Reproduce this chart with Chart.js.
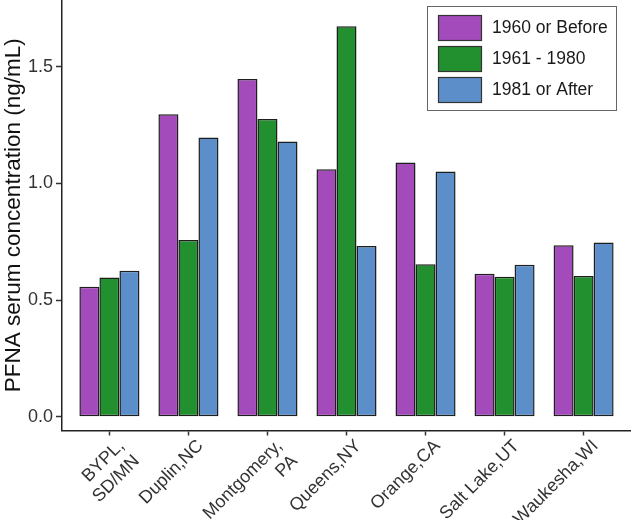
<!DOCTYPE html>
<html>
<head>
<meta charset="utf-8">
<script src="https://cdn.jsdelivr.net/npm/chart.js@4"></script>
<style>
  body { margin: 0; background: #fff; }
  #wrap { width: 631px; height: 520px; }
</style>
</head>
<body>
<div id="wrap"><canvas id="myChart"></canvas></div>
<script>
const sites = [['BYPL,', 'SD/MN'], 'Duplin,NC', ['Montgomery,', 'PA'], 'Queens,NY', 'Orange,CA', 'Salt Lake,UT', 'Waukesha,WI']
const before1960 = [0.557, 1.296, 1.447, 1.061, 1.090, 0.613, 0.735]
const from1961to1980 = [0.597, 0.757, 1.276, 1.674, 0.653, 0.600, 0.603]
const after1981 = [0.626, 1.197, 1.180, 0.732, 1.051, 0.651, 0.747]
const yTicks = [0.0, 0.5, 1.0, 1.5]
const seriesNames = ['1960 or Before', '1961 - 1980', '1981 or After']
const seriesColors = ['#a34bbb', '#23902f', '#5c8fca']

const FONT = '"Liberation Sans", Arial, sans-serif'

// legend drawn inside the plot, top right, like the original
const legendBox = {
    id: 'legendBox',
    afterDraw(chart) {
        const ctx = chart.ctx
        ctx.save()
        ctx.fillStyle = '#fff'
        ctx.fillRect(427.5, 6.5, 189, 104)
        ctx.strokeStyle = '#666'
        ctx.lineWidth = 1
        ctx.strokeRect(427.5, 6.5, 189, 104)
        chart.data.datasets.forEach((ds, i) => {
            const y = 15.5 + i * 31
            ctx.fillStyle = ds.backgroundColor
            ctx.fillRect(438.5, y, 43, 25)
            ctx.strokeStyle = '#333'
            ctx.lineWidth = 1.2
            ctx.strokeRect(438.5, y, 43, 25)
            ctx.fillStyle = '#1a1a1a'
            ctx.font = '17.5px ' + FONT
            ctx.textBaseline = 'middle'
            ctx.textAlign = 'left'
            ctx.fillText(ds.label, 492, y + 13)
        })
        ctx.restore()
    }
}

const toPoints = arr => arr.map((y, i) => ({ x: i, y }))
const series = [before1960, from1961to1980, after1981]

const ctx = document.getElementById('myChart').getContext('2d')

new Chart(ctx, {
    type: 'bar',
    data: {
        datasets: series.map((vals, i) => ({
            label: seriesNames[i],
            data: toPoints(vals),
            backgroundColor: seriesColors[i],
            borderColor: '#1e1e1e',
            borderWidth: 1.5,
            borderSkipped: false,
            categoryPercentage: 0.76,
            barPercentage: 1.0
        }))
    },
    options: {
        responsive: true,
        maintainAspectRatio: false,
        animation: false,
        layout: { padding: 0 },
        plugins: {
            legend: { display: false },
            tooltip: { enabled: false }
        },
        scales: {
            x: {
                type: 'linear',
                min: -0.6,
                max: 6.6,
                offset: false,
                afterBuildTicks: axis => { axis.ticks = sites.map((s, i) => ({ value: i })) },
                afterFit: axis => { axis.height = 89.5; axis.paddingLeft = 0; axis.paddingRight = 0 },
                border: { color: '#222', width: 1.5 },
                grid: { offset: false, drawOnChartArea: false, tickLength: 5, tickColor: '#333', tickWidth: 1.5 },
                ticks: {
                    autoSkip: false,
                    maxRotation: 45,
                    minRotation: 45,
                    padding: 0,
                    labelOffset: 12,
                    color: '#333',
                    font: { family: FONT, size: 18 },
                    callback: v => sites[v]
                }
            },
            y: {
                min: -0.059,
                max: 1.786,
                afterBuildTicks: axis => { axis.ticks = yTicks.map(v => ({ value: v })) },
                afterFit: axis => { axis.width = 62; axis.paddingTop = 0; axis.paddingBottom = 0 },
                border: { color: '#222', width: 1.5 },
                grid: { drawOnChartArea: false, tickLength: 6, tickColor: '#333', tickWidth: 1.5 },
                ticks: {
                    padding: 3,
                    color: '#333',
                    font: { family: FONT, size: 18 },
                    callback: v => v.toFixed(1)
                },
                title: {
                    display: true,
                    text: 'PFNA serum concentration (ng/mL)',
                    color: '#111',
                    font: { family: FONT, size: 22.5 },
                    padding: { top: 0, bottom: 0 }
                }
            }
        }
    },
    plugins: [legendBox]
})
</script>
</body>
</html>
